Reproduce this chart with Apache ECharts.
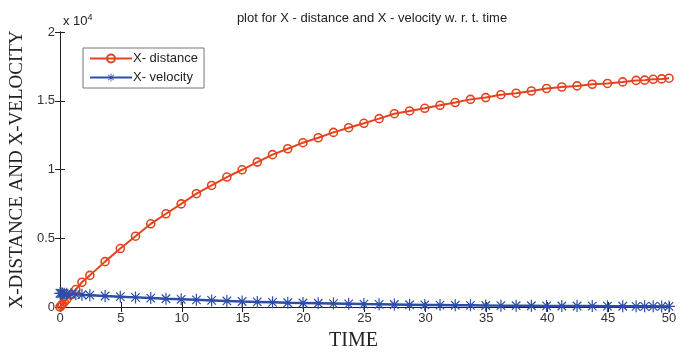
<!DOCTYPE html>
<html>
<head>
<meta charset="utf-8">
<script src="https://cdn.jsdelivr.net/npm/echarts@6/dist/echarts.min.js"></script>
<style>
html,body{margin:0;padding:0;background:#fff;}
#chart{width:689px;height:352px;}
</style>
</head>
<body>
<div id="chart"></div>
<script>
// time samples (solver steps)
var times = [0, 0.1, 0.2, 0.35, 0.55, 0.9, 1.3, 1.8, 2.45, 3.7, 4.95, 6.2, 7.45, 8.7, 9.95, 11.2, 12.45, 13.7, 14.95, 16.2, 17.45, 18.7, 19.95, 21.2, 22.45, 23.7, 24.95, 26.2, 27.45, 28.7, 29.95, 31.2, 32.45, 33.7, 34.95, 36.2, 37.45, 38.7, 39.95, 41.2, 42.45, 43.7, 44.95, 46.2, 47.3, 48.0, 48.7, 49.4, 50];
var xDistance = [0, 100, 200, 350, 550, 880, 1270, 1800, 2300, 3300, 4250, 5150, 6050, 6780, 7500, 8240, 8840, 9450, 9980, 10540, 11080, 11510, 11950, 12310, 12700, 13040, 13360, 13700, 14060, 14260, 14450, 14670, 14870, 15100, 15230, 15440, 15550, 15710, 15890, 16000, 16080, 16200, 16260, 16370, 16480, 16500, 16560, 16590, 16640];
var xVelocity = [1000, 990, 985, 970, 960, 940, 920, 890, 860, 800, 750, 700, 650, 600, 560, 520, 480, 440, 400, 370, 340, 310, 290, 270, 250, 230, 210, 195, 180, 165, 150, 140, 130, 120, 110, 100, 95, 90, 80, 75, 70, 65, 60, 55, 50, 48, 46, 44, 42];
var xTicks = [0, 5, 10, 15, 20, 25, 30, 35, 40, 45, 50];
var yTickLabels = ['0', '0.5', '1', '1.5', '2'];
var seriesNames = ['X- distance', 'X- velocity'];

var RED = '#e4431f';
var BLUE = '#2d4ea8';
var AXIS = '#222';
var asterisk = 'path://M-1,-10L1,-10L1,10L-1,10Z M-10,-1L10,-1L10,1L-10,1Z M-6.36,-7.78L7.78,6.36L6.36,7.78L-7.78,-6.36Z M6.36,-7.78L7.78,-6.36L-6.36,7.78L-7.78,6.36Z';

function pairs(vals){ return times.map(function(t,i){ return [t, vals[i]]; }); }

var chart = echarts.init(document.getElementById('chart'), null, {renderer:'canvas'});
var sansFont = 'Liberation Sans, Arial, sans-serif';
var serifFont = 'Liberation Serif, Times New Roman, serif';

var option = {
  backgroundColor: '#fff',
  animation: false,
  title: [
    {text: 'plot for X - distance and X - velocity w. r. t. time', left: 367, textAlign: 'center', top: 7,
     textStyle: {fontFamily: sansFont, fontSize: 13, fontWeight: 'normal', color: '#222'}},
    {text: 'x 10{s|4}', left: 58, top: 8,
     textStyle: {fontFamily: sansFont, fontSize: 13, fontWeight: 'normal', color: '#222',
       rich: {s: {fontSize: 9, verticalAlign: 'top', padding: [0,0,7,0], fontFamily: sansFont, color: '#222'}}}}
  ],
  legend: {
    orient: 'vertical', left: 83, top: 48,
    backgroundColor: '#fff', borderColor: '#777', borderWidth: 1,
    padding: [4, 6, 4, 6], itemGap: 6, itemWidth: 42, itemHeight: 10,
    textStyle: {fontFamily: sansFont, fontSize: 13, color: '#222', padding: [0,0,0,-4]},
    data: seriesNames
  },
  grid: {left: 60, right: 20, top: 32, bottom: 45, containLabel: false, outerBoundsMode: 'none'},
  xAxis: [
    {type: 'value', min: 0, max: 50, interval: 5, position: 'bottom',
     name: 'TIME', nameLocation: 'middle', nameGap: 24,
     nameTextStyle: {fontFamily: serifFont, fontSize: 20, color: '#222', padding: [0, 22, 0, 0]},
     axisLine: {show: true, lineStyle: {color: AXIS, width: 1}},
     axisTick: {show: true, inside: true, length: 5, lineStyle: {color: AXIS}},
     axisLabel: {fontFamily: sansFont, fontSize: 13, color: '#333', margin: 5,
       formatter: function(v){ return xTicks.indexOf(v) >= 0 ? String(v) : ''; }},
     splitLine: {show: false}},
    {type: 'value', min: 0, max: 50, interval: 5, position: 'top',
     axisLine: {show: true, lineStyle: {color: AXIS, width: 1}},
     axisTick: {show: true, inside: true, length: 5, lineStyle: {color: AXIS}},
     axisLabel: {show: false}, splitLine: {show: false}}
  ],
  yAxis: [
    {type: 'value', min: 0, max: 20000, interval: 5000, position: 'left',
     name: 'X-DISTANCE AND X-VELOCITY', nameLocation: 'middle', nameGap: 30,
     nameTextStyle: {fontFamily: serifFont, fontSize: 19, color: '#222'},
     axisLine: {show: true, lineStyle: {color: AXIS, width: 1}},
     axisTick: {show: true, inside: true, length: 5, lineStyle: {color: AXIS}},
     axisLabel: {fontFamily: sansFont, fontSize: 13, color: '#333', margin: 5,
       formatter: function(v){ return yTickLabels[Math.round(v/5000)]; }},
     splitLine: {show: false}},
    {type: 'value', min: 0, max: 20000, interval: 5000, position: 'right',
     axisLine: {show: true, lineStyle: {color: AXIS, width: 1}},
     axisTick: {show: true, inside: true, length: 5, lineStyle: {color: AXIS}},
     axisLabel: {show: false}, splitLine: {show: false}}
  ],
  series: [
    {name: seriesNames[0], type: 'line', xAxisIndex: 0, yAxisIndex: 0, data: pairs(xDistance),
     symbol: 'circle', symbolSize: 8, clip: false,
     lineStyle: {color: RED, width: 2},
     itemStyle: {color: 'rgba(255,255,255,0)', borderColor: RED, borderWidth: 1.6}},
    {name: seriesNames[1], type: 'line', xAxisIndex: 0, yAxisIndex: 0, data: pairs(xVelocity),
     symbol: asterisk, symbolSize: 12, clip: false,
     lineStyle: {color: BLUE, width: 2.5},
     itemStyle: {color: BLUE, borderWidth: 0}}
  ]
};
chart.setOption(option);
</script>
</body>
</html>
